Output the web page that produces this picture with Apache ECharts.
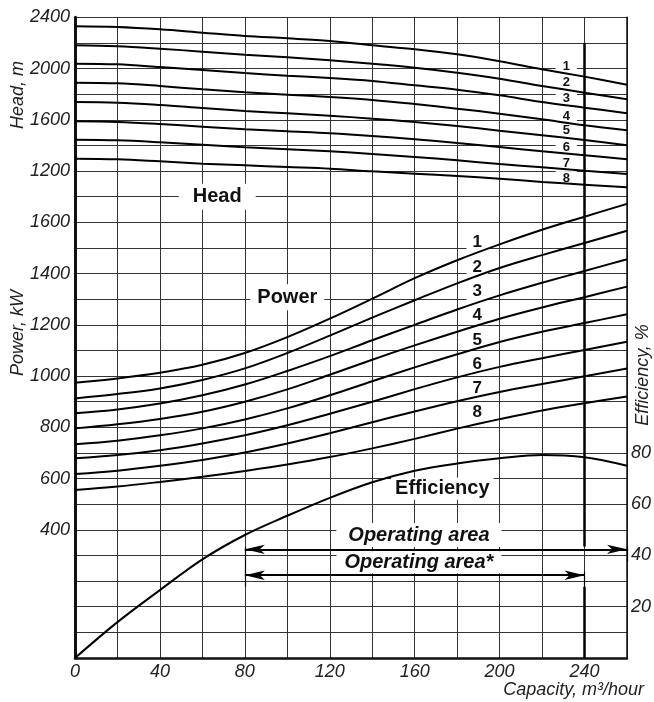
<!DOCTYPE html>
<html>
<head>
<meta charset="utf-8">
<script src="https://cdn.jsdelivr.net/npm/echarts@6.0.0/dist/echarts.min.js"></script>
<style>
  html, body { margin: 0; padding: 0; background: #fff; }
  #chart { width: 654px; height: 702px; }
</style>
</head>
<body>
<div id="chart"></div>
<script>
// ---------------- data ----------------
const capacity = [0, 20, 40, 60, 80, 100, 120, 140, 160, 180, 200, 220, 240, 260];

const head1 = [2330, 2324, 2306, 2280, 2254, 2236, 2215, 2181, 2150, 2111, 2057, 1994, 1937, 1874];
const head2 = [2181, 2174, 2155, 2132, 2108, 2088, 2064, 2038, 2007, 1968, 1921, 1864, 1812, 1760];
const head3 = [2038, 2033, 2012, 1989, 1965, 1944, 1926, 1903, 1869, 1835, 1791, 1739, 1695, 1651];
const head4 = [1890, 1885, 1864, 1838, 1815, 1796, 1778, 1755, 1723, 1687, 1648, 1604, 1557, 1518];
const head5 = [1739, 1734, 1716, 1692, 1669, 1651, 1632, 1609, 1583, 1552, 1515, 1479, 1443, 1401];
const head6 = [1588, 1583, 1567, 1546, 1526, 1510, 1495, 1474, 1448, 1419, 1388, 1354, 1323, 1292];
const head7 = [1445, 1440, 1425, 1406, 1386, 1370, 1354, 1333, 1310, 1284, 1255, 1230, 1203, 1177];
const head8 = [1297, 1292, 1276, 1258, 1245, 1232, 1219, 1198, 1180, 1162, 1141, 1115, 1094, 1073];

const power1 = [974, 991, 1013, 1044, 1090, 1152, 1224, 1302, 1382, 1452, 1514, 1571, 1622, 1672];
const power2 = [913, 930, 952, 985, 1030, 1090, 1158, 1228, 1296, 1362, 1422, 1472, 1519, 1567];
const power3 = [855, 870, 893, 925, 967, 1020, 1078, 1140, 1200, 1260, 1315, 1364, 1410, 1456];
const power4 = [796, 812, 833, 861, 900, 948, 1005, 1064, 1120, 1173, 1224, 1268, 1308, 1349];
const power5 = [734, 748, 769, 796, 831, 874, 925, 980, 1034, 1085, 1133, 1173, 1207, 1241];
const power6 = [679, 692, 711, 737, 769, 808, 853, 900, 949, 995, 1036, 1070, 1102, 1134];
const power7 = [618, 631, 650, 673, 702, 737, 777, 820, 862, 902, 938, 969, 999, 1030];
const power8 = [556, 569, 587, 607, 630, 655, 684, 718, 755, 795, 832, 866, 894, 920];

const efficiency = [0, 14, 26.5, 38.5, 48, 55.5, 62.5, 68.6, 73.1, 75.9, 77.9, 79.2, 78.3, 75];

const curveNames = ['1', '2', '3', '4', '5', '6', '7', '8'];
const xTickLabels = [0, 40, 80, 120, 160, 200, 240];
const headTickLabels = [1200, 1600, 2000, 2400];
const powerTickLabels = [400, 600, 800, 1000, 1200, 1400, 1600];
const effTickLabels = [20, 40, 60, 80];
const operatingArea = [80, 260];
const operatingAreaStar = [80, 240];
const ratedCapacity = 240;

// ---------------- layout of annotations (data coordinates) ----------------
const headNumPos = { x: 231.4, y: [2020, 1890, 1765, 1630, 1518, 1388, 1258, 1141] };
const powerNumPos = { x: 189.5, y: [1522, 1424, 1329, 1236, 1141, 1046, 952, 859] };
const arrowLevel = { main: 42.4, star: 32.3 };

const FONT = '"Liberation Sans", Arial, Helvetica, sans-serif';
const headSets = [head1, head2, head3, head4, head5, head6, head7, head8];
const powerSets = [power1, power2, power3, power4, power5, power6, power7, power8];

function pairs(arr) { return capacity.map((q, i) => [q, arr[i]]); }
function lineSeries(name, arr, yIdx) {
  return {
    name: name, type: 'line', yAxisIndex: yIdx, data: pairs(arr),
    smooth: 0.35, showSymbol: false, silent: true, z: 3,
    lineStyle: { color: '#000', width: 2 }
  };
}

const series = [];
headSets.forEach((a, i) => series.push(lineSeries('Head ' + curveNames[i], a, 0)));
powerSets.forEach((a, i) => series.push(lineSeries('Power ' + curveNames[i], a, 1)));
const effSeries = lineSeries('Efficiency', efficiency, 2);
const arrowSym = { symbol: 'arrow', symbolSize: [7, 20] };
effSeries.markLine = {
  silent: true, animation: false, symbol: ['none', 'none'],
  label: { show: false },
  lineStyle: { color: '#000', width: 2, type: 'solid' },
  emphasis: { disabled: true },
  data: [
    [{ coord: [ratedCapacity, 0], lineStyle: { width: 2.5, color: '#000', type: 'solid' } },
     { coord: [ratedCapacity, 27.8] }],
    [{ coord: [ratedCapacity, 43.5], lineStyle: { width: 2.5, color: '#000', type: 'solid' } },
     { coord: [ratedCapacity, 240] }],
    [Object.assign({ coord: [operatingArea[0], arrowLevel.main] }, arrowSym),
     Object.assign({ coord: [operatingArea[1], arrowLevel.main] }, arrowSym)],
    [Object.assign({ coord: [operatingAreaStar[0], arrowLevel.star] }, arrowSym),
     Object.assign({ coord: [operatingAreaStar[1], arrowLevel.star] }, arrowSym)],
    [{ coord: [operatingArea[0], 27.8], lineStyle: { width: 1.2 } }, { coord: [operatingArea[0], 43.4] }],
    [{ coord: [operatingArea[1], 37.6], lineStyle: { width: 1.2 } }, { coord: [operatingArea[1], 43.8] }],
    [{ coord: [operatingAreaStar[1], 27.8], lineStyle: { width: 1.2 } }, { coord: [operatingAreaStar[1], 33.7] }]
  ]
};
series.push(effSeries);

const labelStyle = { fontFamily: FONT, fontStyle: 'italic', fontSize: 18, color: '#222' };
function pick(list) { return function (v) { return list.indexOf(v) >= 0 ? String(v) : ''; }; }

const chart = echarts.init(document.getElementById('chart'), null, { renderer: 'canvas' });
chart.setOption({
  animation: false,
  backgroundColor: '#fff',
  grid: { left: 75, right: 26.5, top: 17.3, bottom: 44, containLabel: false },
  xAxis: {
    type: 'value', min: 0, max: 260, interval: 20,
    axisLine: { onZero: false, lineStyle: { color: '#111', width: 2.5 } },
    axisTick: { show: false },
    splitLine: { show: true, lineStyle: { color: '#333', width: 1 } },
    axisLabel: Object.assign({ margin: 5, formatter: pick(xTickLabels) }, labelStyle)
  },
  yAxis: [
    {
      type: 'value', position: 'left', min: -2600, max: 2400, interval: 200,
      axisLine: { show: true, onZero: false, lineStyle: { color: '#111', width: 3 } },
      axisTick: { show: false }, splitLine: { show: false },
      axisLabel: Object.assign({ margin: 5, formatter: pick(headTickLabels) }, labelStyle)
    },
    {
      type: 'value', position: 'left', min: -100, max: 2400, interval: 100,
      axisLine: { show: false }, axisTick: { show: false }, splitLine: { show: false },
      axisLabel: Object.assign({ margin: 5, formatter: pick(powerTickLabels) }, labelStyle)
    },
    {
      type: 'value', position: 'right', min: 0, max: 250, interval: 10,
      axisLine: { show: true, onZero: false, lineStyle: { color: '#111', width: 1.5 } },
      axisTick: { show: false },
      splitLine: { show: true, lineStyle: { color: '#333', width: 1 } },
      axisLabel: Object.assign({ margin: 4, formatter: pick(effTickLabels) }, labelStyle)
    }
  ],
  series: series
});

// ---------------- annotations ----------------
function px(seriesIndex, x, y) { return chart.convertToPixel({ seriesIndex: seriesIndex }, [x, y]); }
function boxText(pt, text, font, padding) {
  return {
    type: 'text', x: pt[0], y: pt[1], z: 1, silent: true,
    style: {
      text: text, font: font, fill: '#111', align: 'center', verticalAlign: 'middle',
      backgroundColor: '#fff', padding: padding
    }
  };
}
const graphics = [];
curveNames.forEach((n, i) => {
  graphics.push(boxText(px(0, headNumPos.x, headNumPos.y[i]), n, 'bold 13px ' + FONT, [1, 7]));
  graphics.push(boxText(px(8, powerNumPos.x, powerNumPos.y[i]), n, 'bold 17px ' + FONT, [1, 6]));
});
graphics.push(boxText(px(0, 67, 1000), 'Head', 'bold 20px ' + FONT, [3, 14]));
graphics.push(boxText(px(8, 100, 1308), 'Power', 'bold 20px ' + FONT, [3, 7]));
graphics.push(boxText(px(16, 173, 66), 'Efficiency', 'bold 20px ' + FONT, [1, 4]));
graphics.push(boxText(px(16, 162, 48), 'Operating area', 'italic bold 20px ' + FONT, [2, 12]));
graphics.push(boxText(px(16, 162, 37.4), 'Operating area*', 'italic bold 20px ' + FONT, [1, 8]));

function axisName(x, y, text, rot, align) {
  return {
    type: 'text', x: x, y: y, rotation: rot, z: 1, silent: true,
    style: { text: text, font: 'italic 18px ' + FONT, fill: '#222', align: align || 'center', verticalAlign: 'middle' }
  };
}
graphics.push(axisName(18, 95, 'Head, m', Math.PI / 2));
graphics.push(axisName(18, 333, 'Power, kW', Math.PI / 2));
graphics.push(axisName(643, 375, 'Efficiency, %', Math.PI / 2));
graphics.push(axisName(644, 690, 'Capacity, m³/hour', 0, 'right'));

chart.setOption({ graphic: graphics });
</script>
</body>
</html>
